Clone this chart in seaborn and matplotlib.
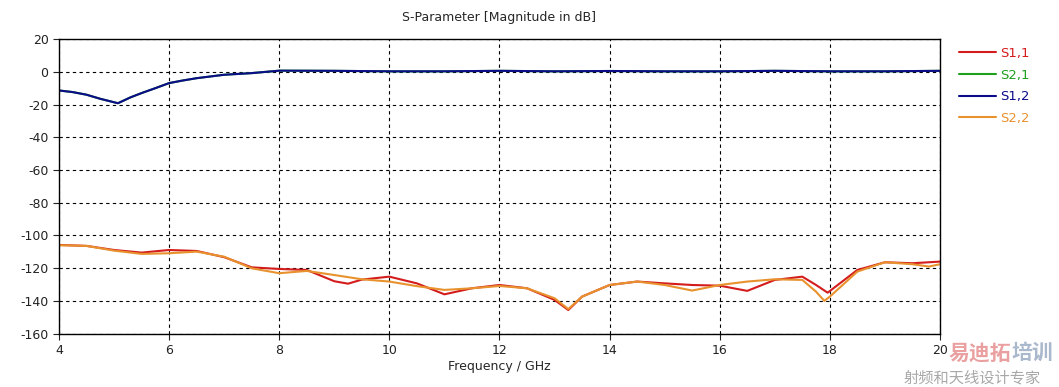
import numpy as np
import pandas as pd
import matplotlib
matplotlib.use('Agg')
import matplotlib.pyplot as plt
import seaborn as sns

# values (GHz, dB)
freq_s12 = [4, 4.25, 4.5, 4.75, 5.07, 5.3, 5.5, 5.75, 6, 6.25, 6.5, 7, 7.5, 8, 9, 10, 11, 12, 13,
            14, 15, 16, 17, 18, 19, 20]
s12_db = [-11.4, -12.4, -14.0, -16.5, -19.2, -15.6, -13.0, -10.0, -6.9, -5.3, -3.9, -1.8, -0.8,
          0.7, 0.6, 0.3, 0.3, 0.6, 0.3, 0.5, 0.3, 0.3, 0.6, 0.3, 0.3, 0.6]
s21_db = s12_db  # hidden under S1,2

freq_s11 = [4, 4.5, 5, 5.5, 6, 6.5, 7, 7.5, 8, 8.5, 9, 9.25, 9.5, 10, 10.5, 11, 11.5, 12, 12.5,
            13, 13.25, 13.5, 14, 14.5, 15, 15.5, 16, 16.5, 17, 17.5, 17.75, 17.96, 18.5, 19, 19.5, 20]
s11_db = [-105.8, -106.4, -108.9, -110.5, -108.9, -109.5, -113.3, -119.5, -120.5, -121.1, -128.0,
          -129.5, -127.0, -125.2, -129.3, -136.0, -132.3, -130.3, -132.3, -139.4, -145.6, -137.4,
          -130.3, -128.2, -129.3, -130.3, -130.7, -133.9, -127.2, -125.2, -130.3, -135.0, -121.1,
          -116.4, -117.0, -116.0]

freq_s22 = [4, 4.5, 5, 5.5, 6, 6.5, 7, 7.5, 8, 8.5, 9, 9.5, 10, 10.5, 11, 11.5, 12, 12.5,
            13, 13.25, 13.5, 14, 14.5, 15, 15.5, 16, 16.5, 17, 17.5, 17.75, 17.9, 18, 18.5, 19,
            19.5, 19.8, 20]
s22_db = [-106.0, -106.4, -109.3, -111.3, -110.9, -109.9, -113.0, -120.1, -123.1, -121.7, -124.2,
          -126.8, -128.2, -131.0, -133.3, -132.3, -130.9, -132.3, -138.4, -145.0, -137.4, -130.3,
          -128.2, -130.3, -133.7, -130.3, -128.2, -126.8, -127.2, -134.4, -140.0, -137.4, -122.1,
          -116.4, -117.6, -119.0, -117.6]

names = ['S1,1', 'S2,1', 'S1,2', 'S2,2']
colors = ['#d41c1c', '#1ea01e', '#0c0c8a', '#e8922e']

df = pd.concat([
    pd.DataFrame({'f': freq_s11, 'db': s11_db, 's': 'S1,1'}),
    pd.DataFrame({'f': freq_s12, 'db': s21_db, 's': 'S2,1'}),
    pd.DataFrame({'f': freq_s12, 'db': s12_db, 's': 'S1,2'}),
    pd.DataFrame({'f': freq_s22, 'db': s22_db, 's': 'S2,2'}),
])

sns.set_style('white')
plt.rcParams['font.family'] = ['DejaVu Sans', 'Noto Sans CJK SC']
plt.rcParams['axes.unicode_minus'] = False

fig = plt.figure(figsize=(10.59, 3.87), dpi=100)
ax = fig.add_axes([0.0557, 0.138, 0.8319, 0.761])

sns.lineplot(data=df, x='f', y='db', hue='s', hue_order=names, palette=colors,
             estimator=None, sort=True, linewidth=1.5, ax=ax)

ax.set_xlim(4, 20)
ax.set_ylim(-160, 20)
ax.set_xticks(np.arange(4, 21, 2))
ax.set_yticks(np.arange(-160, 21, 20))
ax.grid(True, color='black', linestyle=(0, (3, 3)), linewidth=0.8)
for sp in ax.spines.values():
    sp.set_color('black')
    sp.set_linewidth(1.0)
ax.tick_params(axis='both', direction='out', length=4, width=0.8, labelsize=9,
               left=True, bottom=True, colors='#222222')
ax.set_xlabel('Frequency / GHz', fontsize=9, labelpad=2)
ax.set_ylabel('')
ax.set_title('S-Parameter [Magnitude in dB]', fontsize=9, pad=13)

leg = ax.legend(loc='upper left', bbox_to_anchor=(1.008, 1.014), frameon=False,
                fontsize=9.5, handlelength=2.8, handletextpad=0.3, labelspacing=0.66)
for txt, c in zip(leg.get_texts(), colors):
    txt.set_color(c)

# watermark text, kept right of the last x tick label
fig.text(0.896, 0.072, '易迪拓', fontsize=15, color='#eaa0a0', fontweight='bold',
         family=['Noto Sans CJK SC'])
fig.text(0.955, 0.072, '培训', fontsize=15, color='#a9b8cc', fontweight='bold',
         family=['Noto Sans CJK SC'])
fig.text(0.853, 0.012, '射频和天线设计专家', fontsize=11, color='#a8a8a8',
         family=['Noto Sans CJK SC'])

fig.savefig('out.png', dpi=100)
